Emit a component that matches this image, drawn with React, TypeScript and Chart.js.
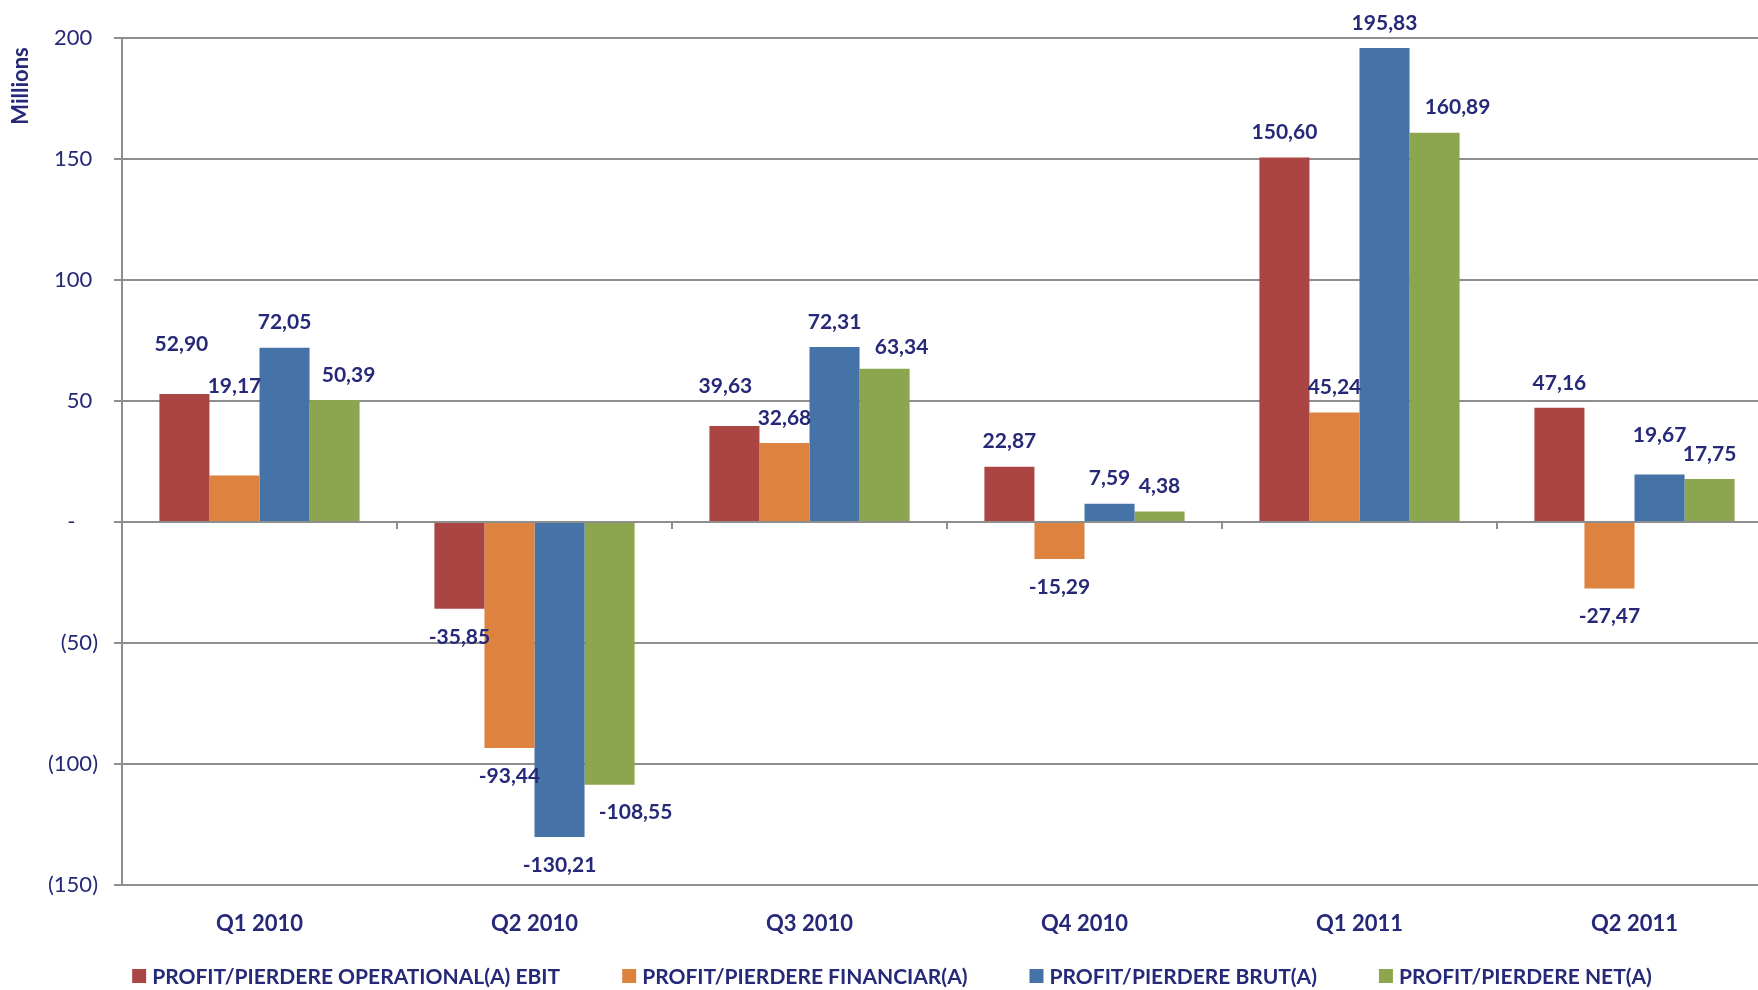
import React, { useEffect, useRef } from "react";
import { Chart, registerables } from "chart.js";

Chart.register(...registerables);

const categories = ["Q1 2010", "Q2 2010", "Q3 2010", "Q4 2010", "Q1 2011", "Q2 2011"];
const seriesNames = [
  "PROFIT/PIERDERE OPERATIONAL(A) EBIT",
  "PROFIT/PIERDERE FINANCIAR(A)",
  "PROFIT/PIERDERE BRUT(A)",
  "PROFIT/PIERDERE NET(A)",
];
const ebit = [52.9, -35.85, 39.63, 22.87, 150.6, 47.16];
const financiar = [19.17, -93.44, 32.68, -15.29, 45.24, -27.47];
const brut = [72.05, -130.21, 72.31, 7.59, 195.83, 19.67];
const net = [50.39, -108.55, 63.34, 4.38, 160.89, 17.75];
const yTicks = [200, 150, 100, 50, 0, -50, -100, -150];

const colors = ["#AB4543", "#DD833F", "#4573A7", "#8BA64E"];
const TEXT = "#262878";
const GRID = "#8E8E8E";
const FONT = "Lato, 'DejaVu Sans', sans-serif";

// label nudges (dataset index, category index, dx px, dy px) — manual placement in the original
const labelNudges: [number, number, number, number][] = [
  [0, 0, -3, -25],
  [1, 0, 0, -64],
  [3, 0, 14, 0],
  [3, 1, 26, 0],
  [0, 2, -9, -15],
  [3, 2, 17, 4],
  [3, 4, 23, 0],
  [2, 5, 0, -14],
];

const fmt = (v: number) => v.toFixed(2).replace(".", ",");

const dataLabelPlugin = {
  id: "dataLabels",
  afterDatasetsDraw(chart: any) {
    const ctx = chart.ctx;
    ctx.save();
    ctx.font = `bold 21px ${FONT}`;
    ctx.fillStyle = TEXT;
    ctx.textAlign = "center";
    ctx.textBaseline = "middle";
    chart.data.datasets.forEach((ds: any, di: number) => {
      const meta = chart.getDatasetMeta(di);
      meta.data.forEach((el: any, i: number) => {
        const v = ds.data[i];
        let dx = 0;
        let dy = v >= 0 ? -25 : 28;
        labelNudges.forEach(([d, c, nx, ny]) => {
          if (d === di && c === i) {
            dx += nx;
            dy += ny;
          }
        });
        ctx.fillText(fmt(v), el.x + dx, el.y + dy);
      });
    });
    ctx.restore();
  },
};

const extrasPlugin = {
  id: "extras",
  afterDraw(chart: any) {
    const ctx = chart.ctx;
    ctx.save();
    // y axis title
    ctx.font = `bold 22px ${FONT}`;
    ctx.fillStyle = TEXT;
    ctx.textAlign = "center";
    ctx.textBaseline = "middle";
    ctx.translate(21, 86);
    ctx.rotate(-Math.PI / 2);
    ctx.fillText("Millions", 0, 0);
    ctx.restore();

    // legend
    ctx.save();
    ctx.font = `bold 21px ${FONT}`;
    ctx.textBaseline = "middle";
    ctx.textAlign = "left";
    const box = 14;
    const boxGap = 6;
    const itemGap = 62;
    const items = chart.data.datasets.map((ds: any) => ({
      text: ds.label,
      color: ds.backgroundColor,
      w: box + boxGap + ctx.measureText(ds.label).width,
    }));
    const total = items.reduce((s: number, it: any) => s + it.w, 0) + itemGap * (items.length - 1);
    let x = 892 - total / 2;
    const y = 976;
    items.forEach((it: any) => {
      ctx.fillStyle = it.color;
      ctx.fillRect(x, y - box / 2, box, box);
      ctx.fillStyle = TEXT;
      ctx.fillText(it.text, x + box + boxGap, y + 1);
      x += it.w + itemGap;
    });
    ctx.restore();
  },
};

export default function App() {
  const ref = useRef<HTMLCanvasElement>(null);
  useEffect(() => {
    if (!ref.current) return;
    Chart.defaults.font.family = FONT;
    const chart = new Chart(ref.current, {
      type: "bar",
      data: {
        labels: categories,
        datasets: [ebit, financiar, brut, net].map((d, i) => ({
          label: seriesNames[i],
          data: d,
          backgroundColor: colors[i],
          borderWidth: 0,
          categoryPercentage: 0.728,
          barPercentage: 1,
        })),
      },
      options: {
        responsive: false,
        animation: false,
        layout: { padding: { top: 38, left: 0, right: 0, bottom: 40 } },
        plugins: {
          legend: { display: false },
          tooltip: { enabled: false },
        },
        scales: {
          x: {
            type: "category",
            position: "bottom",
            grid: { display: false },
            border: { display: false },
            ticks: {
              color: TEXT,
              font: { size: 22, weight: "bold", family: FONT },
              padding: 18,
            },
            afterFit: (s: any) => {
              s.height = 65;
            },
          },
          x2: {
            type: "category",
            labels: categories,
            position: { y: 0 },
            offset: true,
            grid: {
              offset: true,
              drawOnChartArea: false,
              drawTicks: true,
              tickLength: 7,
              color: GRID,
              lineWidth: 2,
            },
            border: { display: false },
            ticks: { display: false },
          },
          y: {
            min: -150,
            max: 200,
            afterBuildTicks: (s: any) => {
              s.ticks = yTicks.map((v) => ({ value: v }));
            },
            ticks: {
              color: TEXT,
              font: { size: 22, family: FONT },
              padding: 16,
              callback: (v: any) => {
                const n = Number(v);
                if (n === 0) return "-    ";
                if (n < 0) return `(${-n})`;
                return `${n} `;
              },
            },
            grid: { color: GRID, lineWidth: 2, tickLength: 8 },
            border: { display: true, color: GRID, width: 2 },
            afterFit: (s: any) => {
              s.width = 122;
            },
          },
        },
      },
      plugins: [dataLabelPlugin, extrasPlugin],
    });
    return () => chart.destroy();
  }, []);

  return (
    <div
      style={{
        position: "absolute",
        left: 0,
        top: 0,
        width: 1758,
        height: 990,
        overflow: "hidden",
        background: "#ffffff",
      }}
    >
      <canvas ref={ref} width={1772} height={990} style={{ display: "block" }} />
    </div>
  );
}
